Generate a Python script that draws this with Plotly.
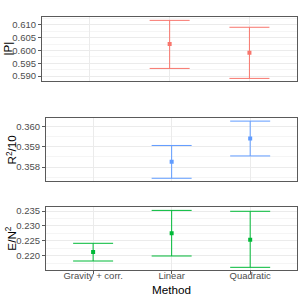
import plotly.graph_objects as go

methods = ["Gravity + corr.", "Linear", "Quadratic"]

# Panel 1: |P|
p_methods = ["Linear", "Quadratic"]
p_val = [0.6026, 0.5991]
p_lo = [0.5930, 0.5891]
p_hi = [0.6118, 0.6091]

# Panel 2: R^2/10
r_methods = ["Linear", "Quadratic"]
r_val = [0.35826, 0.35942]
r_lo = [0.35744, 0.35855]
r_hi = [0.35907, 0.36028]

# Panel 3: E/N^2
e_methods = ["Gravity + corr.", "Linear", "Quadratic"]
e_val = [0.2212, 0.22752, 0.22537]
e_lo = [0.21822, 0.2199, 0.2161]
e_hi = [0.22416, 0.2352, 0.2349]

panel_colors = ["#F8766D", "#619CFF", "#00BA38"]

W = H = 301
def px_x(v):
    return v / W
def px_y(v):
    return 1 - v / H

# (methods, values, lo, hi, y-range, dtick, left px, top px, bottom px, title, title x px)
panels = [
    (p_methods, p_val, p_lo, p_hi, [0.5882, 0.6130], 0.005, 42.0, 17.3, 80.7, "|P|", 6.5),
    (r_methods, r_val, r_lo, r_hi, [0.35732, 0.36042], 0.001, 46.0, 118.3, 180.7, "R<sup>2</sup>/10", 11.0),
    (e_methods, e_val, e_lo, e_hi, [0.2152, 0.23624], 0.005, 46.0, 207.3, 270.0, "E/N<sup>2</sup>", 11.0),
]

fig = go.Figure()
layout = {}
annotations = []
font_family = "Liberation Sans, Arial, sans-serif"

for i, (ms, v, lo, hi, yr, dt, left, top, bot, title, tx) in enumerate(panels):
    idx = "" if i == 0 else str(i + 1)
    col = panel_colors[i]
    fig.add_trace(go.Scatter(
        x=ms, y=v, mode="markers",
        marker=dict(color=col, size=4, symbol="square"),
        error_y=dict(type="data", symmetric=False,
                     array=[h - a for h, a in zip(hi, v)],
                     arrayminus=[a - l for a, l in zip(v, lo)],
                     color=col, thickness=1, width=20),
        xaxis="x" + idx, yaxis="y" + idx, showlegend=False,
        hoverinfo="skip",
    ))
    layout["xaxis" + idx] = dict(
        domain=[px_x(left), px_x(297.3)],
        anchor="y" + idx,
        type="category",
        categoryorder="array", categoryarray=methods,
        range=[-0.6, 2.6],
        automargin=False,
        showgrid=True, gridcolor="#EBEBEB", gridwidth=1,
        showline=True, mirror=True, linecolor="#5a5a5a", linewidth=1,
        ticks="outside" if i == 2 else "", ticklen=3, tickcolor="#5a5a5a",
        showticklabels=(i == 2),
        ticklabelstandoff=-6,
        tickfont=dict(size=9.5, color="#4D4D4D", family=font_family),
        zeroline=False, fixedrange=True,
    )
    layout["yaxis" + idx] = dict(
        domain=[px_y(bot), px_y(top)],
        anchor="x" + idx,
        range=yr, dtick=dt, tick0=0, tickformat=".3f",
        automargin=False,
        showgrid=True, gridcolor="#EBEBEB", gridwidth=1,
        minor=dict(showgrid=True, gridcolor="#F5F5F5", gridwidth=1, dtick=dt / 2),
        showline=True, mirror=True, linecolor="#5a5a5a", linewidth=1,
        ticks="outside", ticklen=3, tickcolor="#5a5a5a",
        tickfont=dict(size=9.5, color="#4D4D4D", family=font_family),
        zeroline=False, fixedrange=True,
    )
    annotations.append(dict(
        text=title, xref="paper", yref="paper",
        x=px_x(tx), y=(px_y(top) + px_y(bot)) / 2,
        showarrow=False, textangle=-90, xanchor="center", yanchor="middle",
        font=dict(size=11.7, color="black", family=font_family),
    ))

annotations.append(dict(
    text="Method", xref="paper", yref="paper",
    x=px_x((46 + 297.3) / 2), y=px_y(289), showarrow=False,
    xanchor="center", yanchor="middle",
    font=dict(size=11.7, color="black", family=font_family),
))

fig.update_layout(
    template="none",
    width=W, height=H,
    margin=dict(l=0, r=0, t=0, b=0),
    paper_bgcolor="white", plot_bgcolor="white",
    annotations=annotations,
    **layout,
)

fig.write_html("out.html", config={"displayModeBar": False},
               post_script="document.body.style.margin='0';document.body.style.padding='0';")
